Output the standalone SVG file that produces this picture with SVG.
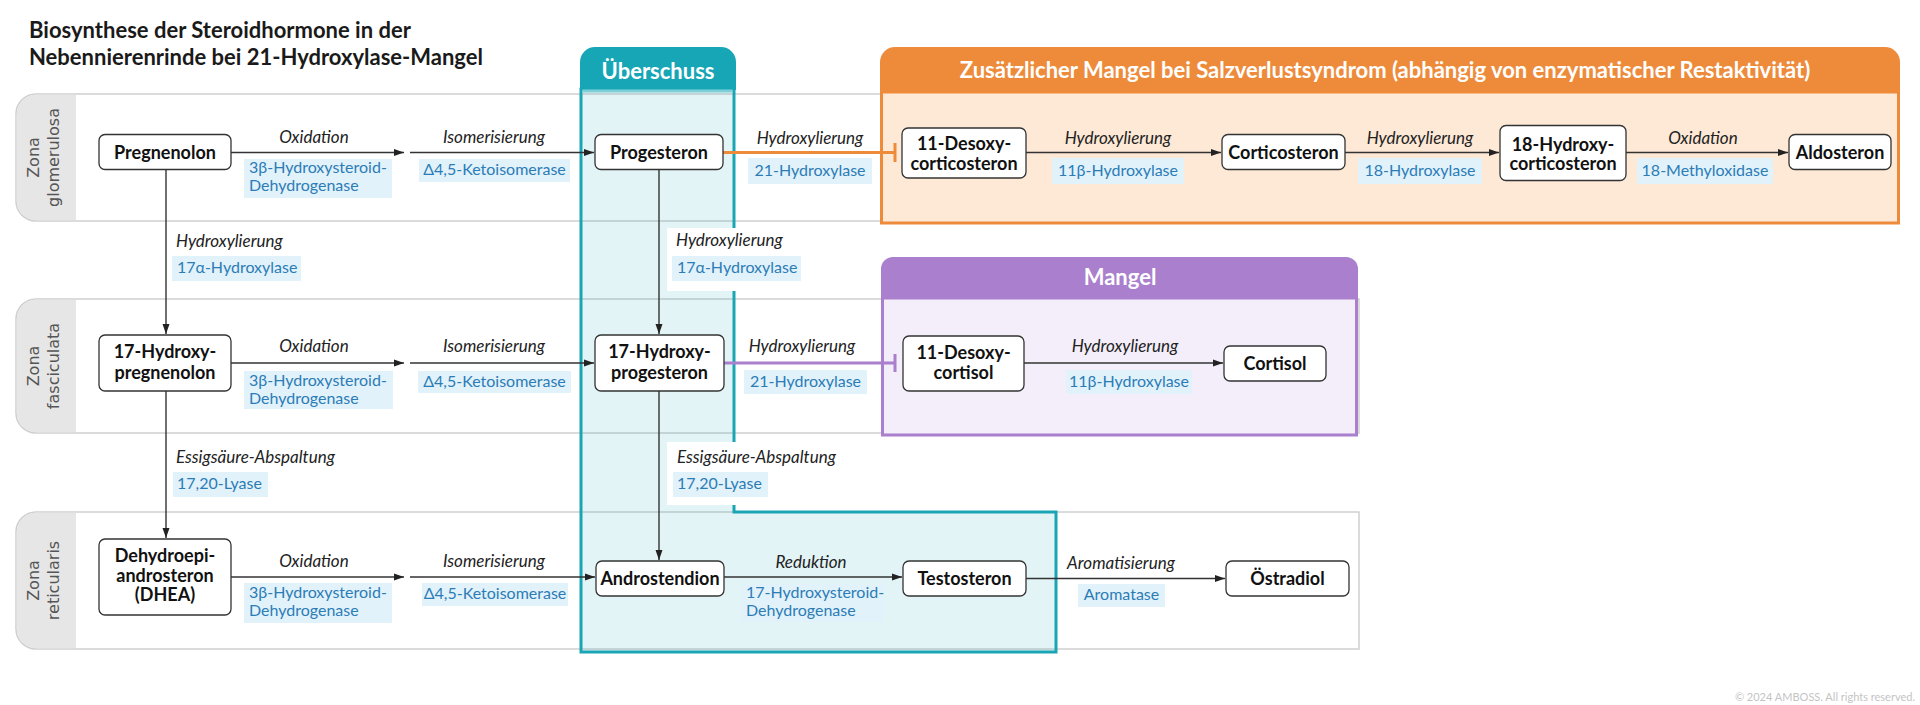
<svg xmlns="http://www.w3.org/2000/svg" width="1920" height="705" viewBox="0 0 1920 705">
<defs>
<marker id="ah" markerWidth="10" markerHeight="8" refX="10" refY="4" orient="auto" markerUnits="userSpaceOnUse"><path d="M0,0.5 L10,4 L0,7.5 z" fill="#222"/></marker>
<style>
.band{fill:#fff;stroke:#cfcfcf;stroke-width:1.5}
.strip{fill:#e6e6e6}
.zl{font-family:"DejaVu Sans",sans-serif;font-size:16px;fill:#555;text-anchor:middle}
.node rect{fill:#fff;stroke:#333;stroke-width:1.3}
.nt{font-family:Lato,"Liberation Sans",sans-serif;font-weight:700;font-size:18px;fill:#111;text-anchor:middle}
.rx{font-family:Lato,"Liberation Sans",sans-serif;font-style:italic;font-size:17px;fill:#222;text-anchor:middle}
.rxs{font-family:Lato,"Liberation Sans",sans-serif;font-style:italic;font-size:17px;fill:#222}
.eb{fill:#e1f2fb}
.et{font-family:Lato,"Liberation Sans",sans-serif;font-size:16px;fill:#2c7cb6;text-anchor:middle}
.ets{font-family:Lato,"Liberation Sans",sans-serif;font-size:16px;fill:#2c7cb6}
.conn line{stroke:#333;stroke-width:1.4;fill:none}
.hdr{font-family:Lato,"Liberation Sans",sans-serif;font-weight:700;fill:#fff;text-anchor:middle}
.title{font-family:Lato,"Liberation Sans",sans-serif;font-weight:700;font-size:22px;fill:#1a1a1a}
</style>
</defs>
<rect width="1920" height="705" fill="#fff"/>
<g id="title">
<text class="title" x="29" y="38">Biosynthese der Steroidhormone in der</text>
<text class="title" x="29" y="65">Nebennierenrinde bei 21-Hydroxylase-Mangel</text>
</g>
<g id="zone-glomerulosa">
<path class="band" d="M1898 94 H36 A20 20 0 0 0 16 114 V201 A20 20 0 0 0 36 221 H1898 Z"/>
<path class="strip" d="M76 94.75 H36 A19.25 19.25 0 0 0 16.75 114 V201 A19.25 19.25 0 0 0 36 220.25 H76 Z"/>
<text class="zl" transform="translate(39,157.5) rotate(-90)">Zona</text>
<text class="zl" transform="translate(59,157.5) rotate(-90)">glomerulosa</text>
</g>
<g id="zone-fasciculata">
<path class="band" d="M1359 299 H36 A20 20 0 0 0 16 319 V413 A20 20 0 0 0 36 433 H1359 Z"/>
<path class="strip" d="M76 299.75 H36 A19.25 19.25 0 0 0 16.75 319 V413 A19.25 19.25 0 0 0 36 432.25 H76 Z"/>
<text class="zl" transform="translate(39,366) rotate(-90)">Zona</text>
<text class="zl" transform="translate(59,366) rotate(-90)">fasciculata</text>
</g>
<g id="zone-reticularis">
<path class="band" d="M1359 512 H36 A20 20 0 0 0 16 532 V629 A20 20 0 0 0 36 649 H1359 Z"/>
<path class="strip" d="M76 512.75 H36 A19.25 19.25 0 0 0 16.75 532 V629 A19.25 19.25 0 0 0 36 648.25 H76 Z"/>
<text class="zl" transform="translate(39,580.5) rotate(-90)">Zona</text>
<text class="zl" transform="translate(59,580.5) rotate(-90)">reticularis</text>
</g>
<g id="ueberschuss">
<path d="M581 89 V652 H1056 V512 H734 V89 Z" fill="#19a8b8" fill-opacity="0.12" stroke="#1aa5b5" stroke-width="3"/>
<path d="M580 90 V62 A15 15 0 0 1 595 47 H721 A15 15 0 0 1 736 62 V90 Z" fill="#17a6b6"/>
<rect x="582.5" y="89.5" width="150" height="3" fill="#7fcfd8"/>
<text class="hdr" x="658" y="79" font-size="22">Überschuss</text>
<rect x="667" y="228" width="90" height="63" fill="#fff"/>
<rect x="667" y="442" width="90" height="63" fill="#fff"/>
</g>
<g id="salzverlust">
<rect x="881.5" y="92" width="1017" height="131" fill="#fde9d6" stroke="#ee8b3b" stroke-width="3"/>
<path d="M880 93 V62 A15 15 0 0 1 895 47 H1885 A15 15 0 0 1 1900 62 V93 Z" fill="#ee8b3b"/>
<text class="hdr" x="1385" y="78" font-size="22">Zusätzlicher Mangel bei Salzverlustsyndrom (abhängig von enzymatischer Restaktivität)</text>
</g>
<g id="mangel">
<rect x="882.5" y="298" width="474" height="137" fill="#f3eefa" stroke="#a97fce" stroke-width="3"/>
<path d="M881 299 V269 A12 12 0 0 1 893 257 H1346 A12 12 0 0 1 1358 269 V299 Z" fill="#a97fce"/>
<text class="hdr" x="1120" y="285" font-size="22">Mangel</text>
</g>
<g id="connectors" class="conn">
<line x1="231" y1="152.5" x2="404" y2="152.5" marker-end="url(#ah)"/>
<line x1="410" y1="152.5" x2="594" y2="152.5" marker-end="url(#ah)"/>
<line x1="723" y1="152.5" x2="895" y2="152.5" style="stroke:#ee8b3b;stroke-width:3"/>
<line x1="895" y1="143" x2="895" y2="162" style="stroke:#ee8b3b;stroke-width:3"/>
<line x1="1026" y1="152.5" x2="1221" y2="152.5" marker-end="url(#ah)"/>
<line x1="1345" y1="152.5" x2="1499" y2="152.5" marker-end="url(#ah)"/>
<line x1="1626" y1="152.5" x2="1788" y2="152.5" marker-end="url(#ah)"/>
<line x1="166" y1="169.5" x2="166" y2="334" marker-end="url(#ah)"/>
<line x1="659" y1="169.5" x2="659" y2="334" marker-end="url(#ah)"/>
<line x1="231" y1="363" x2="404" y2="363" marker-end="url(#ah)"/>
<line x1="410" y1="363" x2="594" y2="363" marker-end="url(#ah)"/>
<line x1="724" y1="363" x2="895" y2="363" style="stroke:#a97fce;stroke-width:3"/>
<line x1="895" y1="354" x2="895" y2="372" style="stroke:#a97fce;stroke-width:3"/>
<line x1="1024" y1="363" x2="1223" y2="363" marker-end="url(#ah)"/>
<line x1="166" y1="391" x2="166" y2="538" marker-end="url(#ah)"/>
<line x1="659" y1="391" x2="659" y2="560" marker-end="url(#ah)"/>
<line x1="231" y1="577" x2="404" y2="577" marker-end="url(#ah)"/>
<line x1="410" y1="577" x2="595" y2="577" marker-end="url(#ah)"/>
<line x1="724" y1="577" x2="902" y2="577" marker-end="url(#ah)"/>
<line x1="1026" y1="578.5" x2="1225" y2="578.5" marker-end="url(#ah)"/>
</g>
<g id="labels">
<text class="rx" x="314" y="143">Oxidation</text>
<rect class="eb" x="244" y="159" width="148" height="39"/>
<text class="ets" x="249" y="173">3β-Hydroxysteroid-</text>
<text class="ets" x="249" y="191">Dehydrogenase</text>
<text class="rx" x="494" y="143">Isomerisierung</text>
<rect class="eb" x="419" y="159" width="151" height="23"/>
<text class="et" x="494.5" y="175">Δ4,5-Ketoisomerase</text>
<text class="rx" x="810" y="144">Hydroxylierung</text>
<rect class="eb" x="748" y="158" width="124" height="26"/>
<text class="et" x="810" y="176">21-Hydroxylase</text>
<text class="rx" x="1118" y="144">Hydroxylierung</text>
<rect class="eb" x="1052" y="158" width="132" height="26"/>
<text class="et" x="1118" y="176">11β-Hydroxylase</text>
<text class="rx" x="1420" y="144">Hydroxylierung</text>
<rect class="eb" x="1358" y="158" width="124" height="26"/>
<text class="et" x="1420" y="176">18-Hydroxylase</text>
<text class="rx" x="1703" y="144">Oxidation</text>
<rect class="eb" x="1637" y="158" width="136" height="26"/>
<text class="et" x="1705" y="176">18-Methyloxidase</text>

<text class="rxs" x="176" y="247">Hydroxylierung</text>
<rect class="eb" x="172" y="256" width="129" height="25"/>
<text class="ets" x="177" y="273">17α-Hydroxylase</text>
<text class="rxs" x="676" y="246">Hydroxylierung</text>
<rect class="eb" x="672" y="256" width="129" height="25"/>
<text class="ets" x="677" y="273">17α-Hydroxylase</text>

<text class="rx" x="314" y="352">Oxidation</text>
<rect class="eb" x="244" y="371" width="149" height="38"/>
<text class="ets" x="249" y="386">3β-Hydroxysteroid-</text>
<text class="ets" x="249" y="404">Dehydrogenase</text>
<text class="rx" x="494" y="352">Isomerisierung</text>
<rect class="eb" x="418" y="371" width="153" height="22"/>
<text class="et" x="494.5" y="387">Δ4,5-Ketoisomerase</text>
<text class="rx" x="802" y="352">Hydroxylierung</text>
<rect class="eb" x="744" y="370" width="123" height="24"/>
<text class="et" x="805.5" y="387">21-Hydroxylase</text>
<text class="rx" x="1125" y="352">Hydroxylierung</text>
<rect class="eb" x="1066" y="370" width="126" height="24"/>
<text class="et" x="1129" y="387">11β-Hydroxylase</text>

<text class="rxs" x="176" y="463">Essigsäure-Abspaltung</text>
<rect class="eb" x="173" y="472" width="95" height="25"/>
<text class="ets" x="177" y="489">17,20-Lyase</text>
<text class="rxs" x="677" y="463">Essigsäure-Abspaltung</text>
<rect class="eb" x="673" y="472" width="95" height="25"/>
<text class="ets" x="677" y="489">17,20-Lyase</text>

<text class="rx" x="314" y="567">Oxidation</text>
<rect class="eb" x="244" y="583" width="148" height="40"/>
<text class="ets" x="249" y="598">3β-Hydroxysteroid-</text>
<text class="ets" x="249" y="616">Dehydrogenase</text>
<text class="rx" x="494" y="567">Isomerisierung</text>
<rect class="eb" x="422" y="583" width="146" height="23"/>
<text class="et" x="495" y="599">Δ4,5-Ketoisomerase</text>
<text class="rx" x="811" y="568">Reduktion</text>
<rect class="eb" x="741" y="584" width="143" height="38"/>
<text class="ets" x="746" y="598">17-Hydroxysteroid-</text>
<text class="ets" x="746" y="616">Dehydrogenase</text>
<text class="rx" x="1121" y="569">Aromatisierung</text>
<rect class="eb" x="1078" y="584" width="87" height="23"/>
<text class="et" x="1121.5" y="600">Aromatase</text>
</g>
<g id="n-pregnenolon" class="node"><rect x="99" y="134.5" width="132" height="35" rx="6"/><text class="nt" x="165" y="158.5">Pregnenolon</text></g>
<g id="n-progesteron" class="node"><rect x="595" y="134.5" width="128" height="35" rx="6"/><text class="nt" x="659" y="158.5">Progesteron</text></g>
<g id="n-desoxycorticosteron" class="node"><rect x="902" y="128" width="124" height="50" rx="6"/><text class="nt" x="964" y="150">11-Desoxy-</text><text class="nt" x="964" y="169.5">corticosteron</text></g>
<g id="n-corticosteron" class="node"><rect x="1222" y="134.5" width="123" height="35" rx="6"/><text class="nt" x="1283.5" y="158.5">Corticosteron</text></g>
<g id="n-hydroxycorticosteron" class="node"><rect x="1500" y="125.5" width="126" height="55" rx="6"/><text class="nt" x="1563" y="150.5">18-Hydroxy-</text><text class="nt" x="1563" y="170">corticosteron</text></g>
<g id="n-aldosteron" class="node"><rect x="1789" y="134.5" width="102" height="35" rx="6"/><text class="nt" x="1840" y="158.5">Aldosteron</text></g>
<g id="n-hydroxypregnenolon" class="node"><rect x="99" y="335" width="132" height="56" rx="6"/><text class="nt" x="165" y="358">17-Hydroxy-</text><text class="nt" x="165" y="378.5">pregnenolon</text></g>
<g id="n-hydroxyprogesteron" class="node"><rect x="595" y="335" width="129" height="56" rx="6"/><text class="nt" x="659.5" y="358">17-Hydroxy-</text><text class="nt" x="659.5" y="378.5">progesteron</text></g>
<g id="n-desoxycortisol" class="node"><rect x="903" y="336" width="121" height="55" rx="6"/><text class="nt" x="963.5" y="358.5">11-Desoxy-</text><text class="nt" x="963.5" y="379">cortisol</text></g>
<g id="n-cortisol" class="node"><rect x="1224" y="346" width="102" height="35" rx="6"/><text class="nt" x="1275" y="369.5">Cortisol</text></g>
<g id="n-dhea" class="node"><rect x="99" y="539" width="132" height="76" rx="6"/><text class="nt" x="165" y="562">Dehydroepi-</text><text class="nt" x="165" y="581.5">androsteron</text><text class="nt" x="165" y="601">(DHEA)</text></g>
<g id="n-androstendion" class="node"><rect x="596" y="561" width="128" height="35" rx="6"/><text class="nt" x="660" y="584.5">Androstendion</text></g>
<g id="n-testosteron" class="node"><rect x="903" y="561" width="123" height="35" rx="6"/><text class="nt" x="964.5" y="584.5">Testosteron</text></g>
<g id="n-oestradiol" class="node"><rect x="1226" y="561" width="123" height="35" rx="6"/><text class="nt" x="1287.5" y="584.5">Östradiol</text></g>
<text x="1915" y="701" text-anchor="end" font-family="Lato, 'Liberation Sans', sans-serif" font-size="11" fill="#c4c4c4">© 2024 AMBOSS. All rights reserved.</text>
</svg>
